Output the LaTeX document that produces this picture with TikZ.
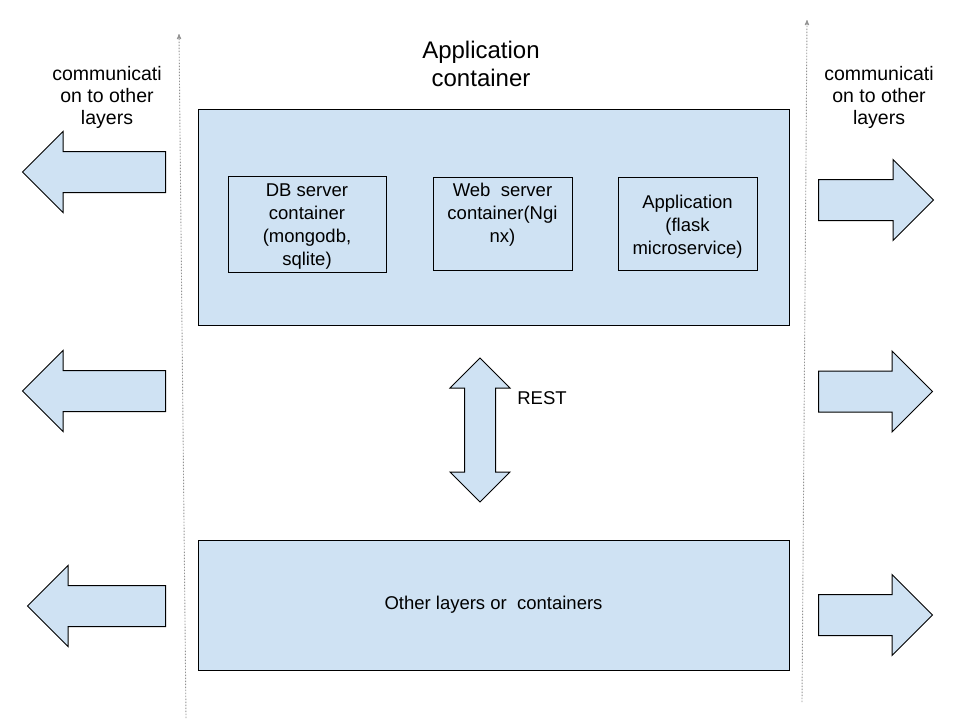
\documentclass[tikz,border=0pt]{standalone}
\usepackage{fontspec}
\setmainfont{Liberation Sans}
\usetikzlibrary{arrows,shapes.arrows}

\definecolor{lightblue}{HTML}{CFE2F3}

\begin{document}
\begin{tikzpicture}[x=1pt,y=-1pt,>=stealth',
                    every node/.style={font=\fontsize{18.5}{22}\selectfont,align=center}]
  \tikzstyle{container}=[draw,fill=lightblue,line width=1pt,inner sep=0pt]
  \tikzstyle{boxtext}=[font=\fontsize{18.5}{23}\selectfont]
  \tikzstyle{blockarrow}=[single arrow,draw,fill=lightblue,line width=1pt,
                          inner sep=20pt,single arrow head extend=20pt,anchor=tail]
  \tikzstyle{layerline}=[->,gray!85,line width=0.9pt,dash pattern=on 1.5pt off 1.5pt]

  \useasboundingbox (0,0) rectangle (960,720);

  % dividing lines
  \coordinate (l0) at (186,718);
  \coordinate (l1) at (179,34);
  \coordinate (r0) at (802,702);
  \coordinate (r1) at (807,20);
  \draw[layerline] (l0) -- (l1);
  \draw[layerline] (r0) -- (r1);

  % application container
  \node[font=\fontsize{24}{28}\selectfont] (title) at (481,64) {Application\\container};
  \node[container,minimum width=591pt,minimum height=216pt] (app) at (493.5,217) {};
  \node[container,minimum width=158pt,minimum height=96pt] (db) at (307,224) {};
  \node[container,minimum width=139pt,minimum height=93pt] (web) at (502.5,223.5) {};
  \node[container,minimum width=139pt,minimum height=93pt] (flask) at (687.5,223.5) {};
  \node[boxtext,yshift=-3pt] (dbtext) at (db) {DB server\\container\\(mongodb,\\sqlite)};
  \node[boxtext,yshift=9pt] (webtext) at (web) {Web\ \ server\\container(Ngi\\nx)};
  \node[boxtext,yshift=-3.5pt] (flasktext) at (flask) {Application\\(flask\\microservice)};

  % REST link
  \node[double arrow,draw,fill=lightblue,line width=1pt,inner sep=15pt,
        double arrow head extend=14.5pt,minimum height=144pt,rotate=90] (rest) at (480,430) {};
  \node (restlabel) at (542,398) {REST};

  % other layers
  \node[container,minimum width=591pt,minimum height=130pt] (other) at (493.5,605)
       {Other layers or\ \ containers};

  % communication to other layers
  \node[font=\fontsize{19.5}{22}\selectfont] (commleft) at (107,97) {communicati\\on to other\\layers};
  \node[font=\fontsize{19.5}{22}\selectfont] (commright) at (879,97) {communicati\\on to other\\layers};

  \node[blockarrow,rotate=180,minimum height=143pt] (out1) at (166,172) {};
  \node[blockarrow,rotate=180,minimum height=143pt] (out2) at (166,391) {};
  \node[blockarrow,rotate=180,minimum height=138pt] (out3) at (166,606) {};
  \node[blockarrow,minimum height=115pt] (in1) at (818,200) {};
  \node[blockarrow,minimum height=114pt] (in2) at (818,391.5) {};
  \node[blockarrow,minimum height=114pt] (in3) at (818,615) {};

\end{tikzpicture}
\end{document}
